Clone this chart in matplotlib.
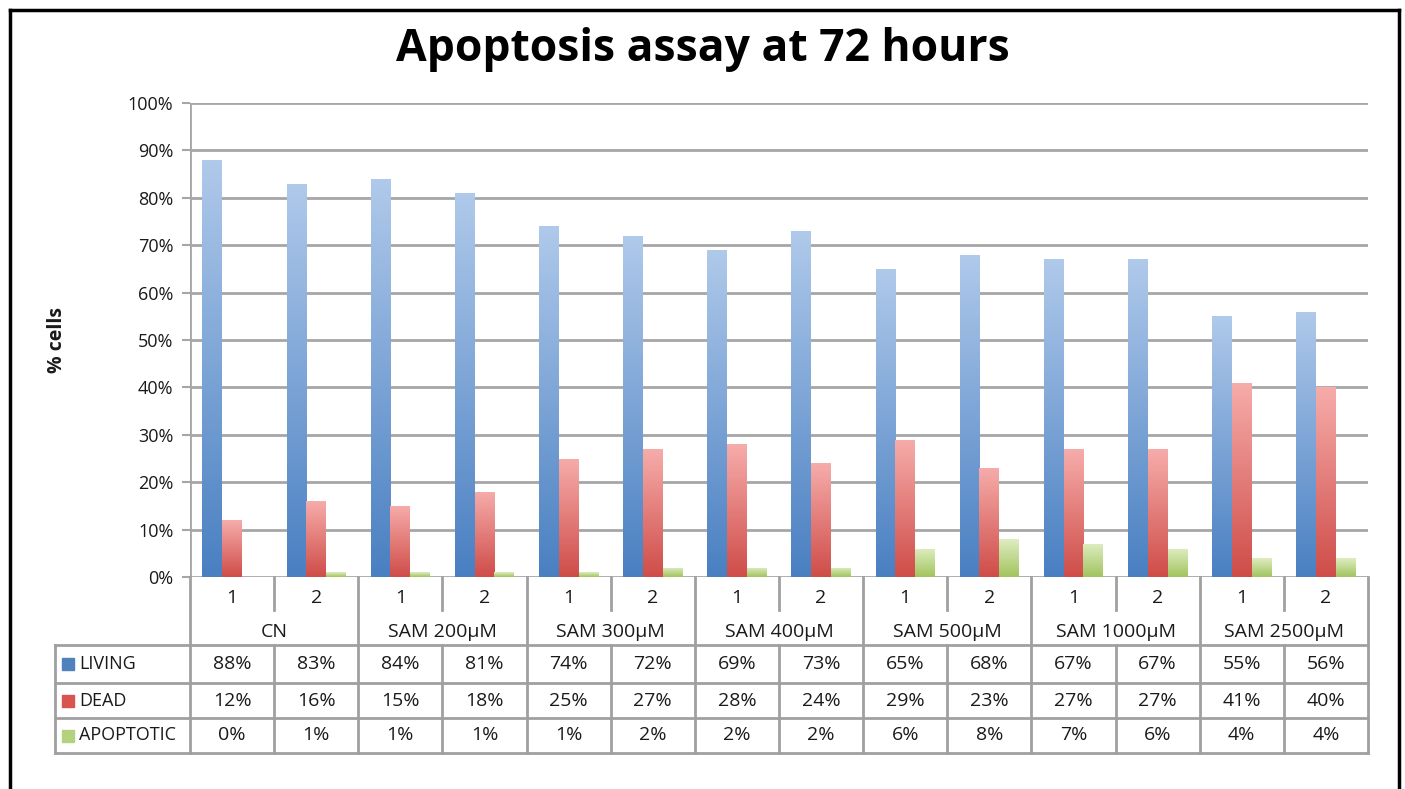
import numpy as np
import matplotlib
matplotlib.use("Agg")
from matplotlib import pyplot as plt
from matplotlib.colors import LinearSegmentedColormap
from matplotlib.lines import Line2D

plt.rcParams['font.family'] = ['Open Sans', 'DejaVu Sans']

groups = ['CN', 'SAM 200µM', 'SAM 300µM', 'SAM 400µM', 'SAM 500µM', 'SAM 1000µM', 'SAM 2500µM']
reps = ['1', '2']
series = ['LIVING', 'DEAD', 'APOPTOTIC']
living = [88, 83, 84, 81, 74, 72, 69, 73, 65, 68, 67, 67, 55, 56]
dead = [12, 16, 15, 18, 25, 27, 28, 24, 29, 23, 27, 27, 41, 40]
apoptotic = [0, 1, 1, 1, 1, 2, 2, 2, 6, 8, 7, 6, 4, 4]
yticks = [0, 10, 20, 30, 40, 50, 60, 70, 80, 90, 100]

# gradient (top, bottom) per series
grads = [('#afc9ea', '#4a80c2'), ('#f6acaa', '#cf4d49'), ('#deedc0', '#a2c45e')]
legend_col = ['#4f81bd', '#d9534f', '#b3d17f']

W, H = 1405, 789
fig = plt.figure(figsize=(W / 100, H / 100), dpi=100)
fig.patch.set_facecolor('white')

# main chart area
x0, x1, ytop, ybot = 190, 1368, 103, 577
ax = fig.add_axes([x0 / W, (H - ybot) / H, (x1 - x0) / W, (ybot - ytop) / H])
n = len(living)
ax.set_xlim(0, n)
ax.set_ylim(0, 100)
grid_c = '#a6a6a6'
for t in yticks:
    ax.axhline(t, color=grid_c, lw=2, zorder=1)
for s in ax.spines.values():
    s.set_visible(False)
ax.axvline(0, color=grid_c, lw=2, zorder=1)
ax.set_yticks(yticks)
ax.set_yticklabels([f'{t}%' for t in yticks], fontsize=13, color='#1a1a1a')
ax.tick_params(axis='y', length=6, width=1.5, color=grid_c, pad=6)
ax.set_xticks([])

bw = 0.235
xs = np.arange(n) + 0.5
for k, vals in enumerate([living, dead, apoptotic]):
    bars = ax.bar(xs + (k - 1) * bw, vals, width=bw, color='none', lw=0, zorder=2)
    cmap = LinearSegmentedColormap.from_list('g%d' % k, [grads[k][1], grads[k][0]])
    for b in bars:
        h = b.get_height()
        if h <= 0:
            continue
        im = ax.imshow(np.linspace(0, 1, 64).reshape(-1, 1), cmap=cmap, origin='lower',
                       extent=(b.get_x(), b.get_x() + b.get_width(), 0, h),
                       aspect='auto', zorder=2, interpolation='bilinear')
        im.set_clip_path(b)
ax.set_xlim(0, n)
ax.set_ylim(0, 100)

ax.text(-0.113, 0.5, '% cells', transform=ax.transAxes, rotation=90, ha='center', va='center',
        fontsize=14, fontweight='bold', color='#1a1a1a')

# data table below
tl, tt, tb = 55, 577, 753
tx = fig.add_axes([tl / W, (H - tb) / H, (x1 - tl) / W, (tb - tt) / H])
col_px = (x1 - x0) / n
lw_units = (x0 - tl) / col_px
tx.set_xlim(-lw_units, n)
tx.set_ylim(tb - tt, 0)
tx.axis('off')
lc = '#a0a0a0'
rows = [68, 106, 141, 176]
for r in rows:
    tx.plot([-lw_units, n], [r, r], color=lc, lw=2, clip_on=False)
tx.plot([-lw_units, -lw_units], [rows[0], rows[-1]], color=lc, lw=2, clip_on=False)
for i in range(n + 1):
    if i % 2 == 0:
        tx.plot([i, i], [0, rows[-1]], color=lc, lw=2, clip_on=False)
    else:
        tx.plot([i, i], [0, 33], color=lc, lw=2, clip_on=False)
        tx.plot([i, i], [rows[0], rows[-1]], color=lc, lw=2, clip_on=False)

tc = '#1a1a1a'
fs = 14
for i in range(n):
    tx.text(i + 0.5, 21, reps[i % 2], ha='center', va='center', fontsize=fs, color=tc)
for g, name in enumerate(groups):
    tx.text(2 * g + 1, 55, name, ha='center', va='center', fontsize=fs, color=tc)
row_mid = [87, 123.5, 158.5]
for k, vals in enumerate([living, dead, apoptotic]):
    for i, v in enumerate(vals):
        tx.text(i + 0.5, row_mid[k], f'{v}%', ha='center', va='center', fontsize=fs, color=tc)
    tx.add_patch(plt.Rectangle((-lw_units + 7 / col_px, row_mid[k] - 6), 12 / col_px, 12,
                               color=legend_col[k], clip_on=False))
    tx.text(-lw_units + 24 / col_px, row_mid[k], series[k], ha='left', va='center',
            fontsize=13, color=tc)

fig.text(0.5, 1 - 49 / H, 'Apoptosis assay at 72 hours', ha='center', va='center',
         fontsize=32, fontweight='bold', color='black')

# outer frame (left, top, right)
fx0, fx1, fy = 9.5 / W, 1399 / W, 1 - 9.5 / H
fig.add_artist(Line2D([fx0, fx0], [0, fy], color='black', lw=2.5, transform=fig.transFigure))
fig.add_artist(Line2D([fx0, fx1], [fy, fy], color='black', lw=2.5, transform=fig.transFigure))
fig.add_artist(Line2D([fx1, fx1], [0, fy], color='black', lw=2.5, transform=fig.transFigure))

fig.savefig('out.png', dpi=100)
